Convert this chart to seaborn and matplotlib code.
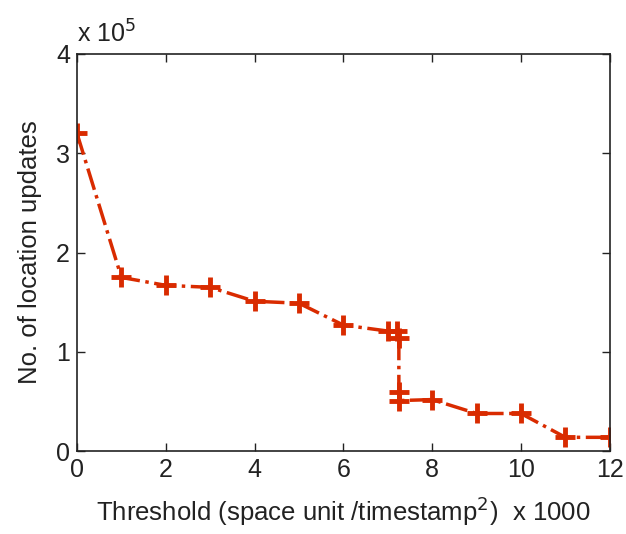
import matplotlib
matplotlib.use('Agg')
import matplotlib.pyplot as plt
import pandas as pd
import seaborn as sns

threshold = [0, 1, 2, 3, 4, 5, 6, 7, 7.2, 7.25, 7.25, 7.25, 8, 9, 10, 11, 12]
updates = [3.2, 1.75, 1.67, 1.65, 1.51, 1.49, 1.27, 1.21, 1.21, 1.14, 0.6, 0.51, 0.52, 0.38, 0.38, 0.14, 0.14]

df = pd.DataFrame({'threshold': threshold, 'updates': updates})

sns.set_style('white')
plt.rcParams['font.family'] = ['Liberation Sans', 'DejaVu Sans']

fig = plt.figure(figsize=(6.26, 5.34), dpi=100)
ax = fig.add_axes([0.123, 0.155, 0.851, 0.744])

sns.lineplot(data=df, x='threshold', y='updates', sort=False, estimator=None,
             color='#d92b00', linewidth=2.5, linestyle='-.', marker='+',
             markersize=14, markeredgewidth=3.5, markeredgecolor='#d92b00', ax=ax)

ax.set_xlim(0, 12)
ax.set_ylim(0, 4)
ax.set_xticks(range(0, 13, 2))
ax.set_yticks(range(0, 5))
ax.tick_params(direction='in', length=6, width=1, labelsize=18, pad=5,
               top=True, right=True, bottom=True, left=True, colors='#222222')
for s in ax.spines.values():
    s.set_visible(True)
    s.set_color('#222222')
    s.set_linewidth(1.2)

ax.set_xlabel('Threshold (space unit /timestamp$^2$)  x 1000', fontsize=18.5, color='#222222', labelpad=9)
ax.set_ylabel('No. of location updates', fontsize=18.5, color='#222222', labelpad=10)
ax.text(0.0, 1.015, 'x 10$^5$', transform=ax.transAxes, fontsize=18, color='#222222',
        ha='left', va='bottom')

fig.savefig('out.png', dpi=100)
